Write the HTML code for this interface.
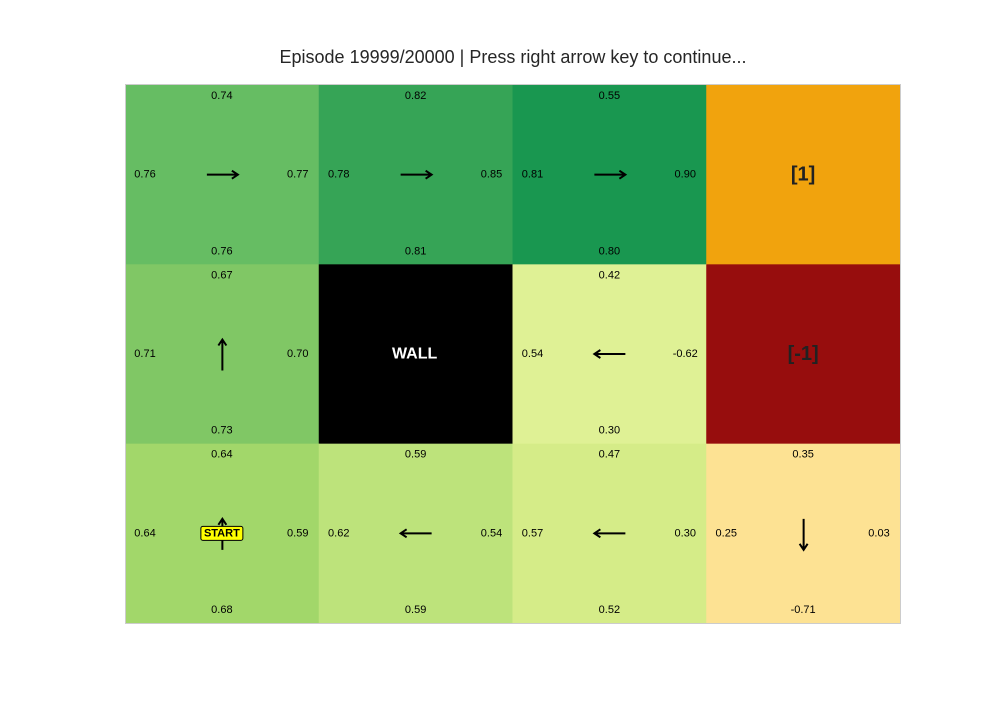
<!DOCTYPE html>
<html><head><meta charset="utf-8"><style>
body{margin:0;background:#fff;}
svg text{font-family:"Liberation Sans",Arial,sans-serif;}
</style></head><body>
<svg id="chart" width="1000" height="700" xmlns="http://www.w3.org/2000/svg">
<rect width="1000" height="700" fill="#fff"/>
<text x="513" y="63" font-size="18" text-anchor="middle" fill="#262626">Episode 19999/20000 | Press right arrow key to continue...</text>
<g id="cells"></g>
<rect x="125.5" y="84.5" width="775" height="539" fill="none" stroke="#ccc"/>
</svg>
<script>
// Q-values per cell: [top, left, right, bottom]; null = special cell
const rows = 3, cols = 4;
const qTop = [[0.74,0.82,0.55,null],[0.67,null,0.42,null],[0.64,0.59,0.47,0.35]];
const qLeft = [[0.76,0.78,0.81,null],[0.71,null,0.54,null],[0.64,0.62,0.57,0.25]];
const qRight = [[0.77,0.85,0.90,null],[0.70,null,-0.62,null],[0.59,0.54,0.30,0.03]];
const qBottom = [[0.76,0.81,0.80,null],[0.73,null,0.30,null],[0.68,0.59,0.52,-0.71]];
const policy = [["right","right","right",""],["up","","left",""],["up","left","left","down"]];
const cellColors = [["#66bd63","#36a456","#199750","#f1a30d"],["#80c765","#000000","#dff195","#970d0d"],["#a2d76a","#bde37b","#d5ec88","#fde293"]];
const specialLabels = [[null,null,null,"[1]"],[null,"WALL",null,"[-1]"],[null,null,null,null]];
const x0=125, y0=85, cw=(900-125)/4, ch=(623-85)/3;
const g=document.getElementById('cells');
const NS="http://www.w3.org/2000/svg";
function fmt(v){return v.toFixed(2);}
function txt(x,y,s,size,attrs){const t=document.createElementNS(NS,'text');t.setAttribute('x',x);t.setAttribute('y',y);t.setAttribute('font-size',size);t.setAttribute('text-anchor','middle');t.setAttribute('dominant-baseline','central');for(const k in attrs)t.setAttribute(k,attrs[k]);t.textContent=s;g.appendChild(t);return t;}
const dirs={right:[1,0],left:[-1,0],up:[0,-1],down:[0,1]};
for(let r=0;r<rows;r++)for(let c=0;c<cols;c++){
  const x=x0+c*cw,y=y0+r*ch,cx=x+cw/2,cy=y+ch/2;
  const rc=document.createElementNS(NS,'rect');
  rc.setAttribute('x',x);rc.setAttribute('y',y);rc.setAttribute('width',cw+0.5);rc.setAttribute('height',ch+0.5);rc.setAttribute('fill',cellColors[r][c]);
  
  
  g.appendChild(rc);
  const sp=specialLabels[r][c];
  if(sp){
    const t=txt(sp==="WALL"?cx-1:cx,cy,sp,sp==="WALL"?16:20,{'font-weight':'bold',fill:sp==="WALL"?'#fff':'#222'});
    
    
    continue;
  }
  let t;
  t=txt(cx,y+11,fmt(qTop[r][c]),11,{fill:'#000'});
  
  
  t=txt(cx,y+ch-13,fmt(qBottom[r][c]),11,{fill:'#000'});
  
  
  t=txt(x+20,cy,fmt(qLeft[r][c]),11,{fill:'#000'});
  
  
  t=txt(x+cw-21,cy,fmt(qRight[r][c]),11,{fill:'#000'});
  
  
  const a=policy[r][c];
  if(a){
    const [dx,dy]=dirs[a];
    const L=15.5, ax=cx+0.5, ay=cy+(dy===0?0:1);
    const sx=ax-dx*L, sy=ay-dy*L, ex=ax+dx*L, ey=ay+dy*L;
    const px=-dy, py=dx;
    const hx=ex-dx*6, hy=ey-dy*6;
    const p=document.createElementNS(NS,'path');
    p.setAttribute('d',`M${sx},${sy}L${ex},${ey}M${hx+px*4},${hy+py*4}L${ex},${ey}L${hx-px*4},${hy-py*4}`);
    p.setAttribute('stroke','#000');p.setAttribute('stroke-width','2');p.setAttribute('fill','none');
    
    
    g.appendChild(p);
  }
  if(r===2&&c===0){
    const b=document.createElementNS(NS,'rect');
    b.setAttribute('x',cx-21);b.setAttribute('y',cy-7);b.setAttribute('width',42);b.setAttribute('height',14);b.setAttribute('rx',2);
    b.setAttribute('fill','#ffff00');b.setAttribute('stroke','#000');b.setAttribute('stroke-width','1');
    
    
    g.appendChild(b);
    t=txt(cx,cy,'START',11,{'font-weight':'bold',fill:'#000'});
    
    
  }
}
</script>
</body></html>
